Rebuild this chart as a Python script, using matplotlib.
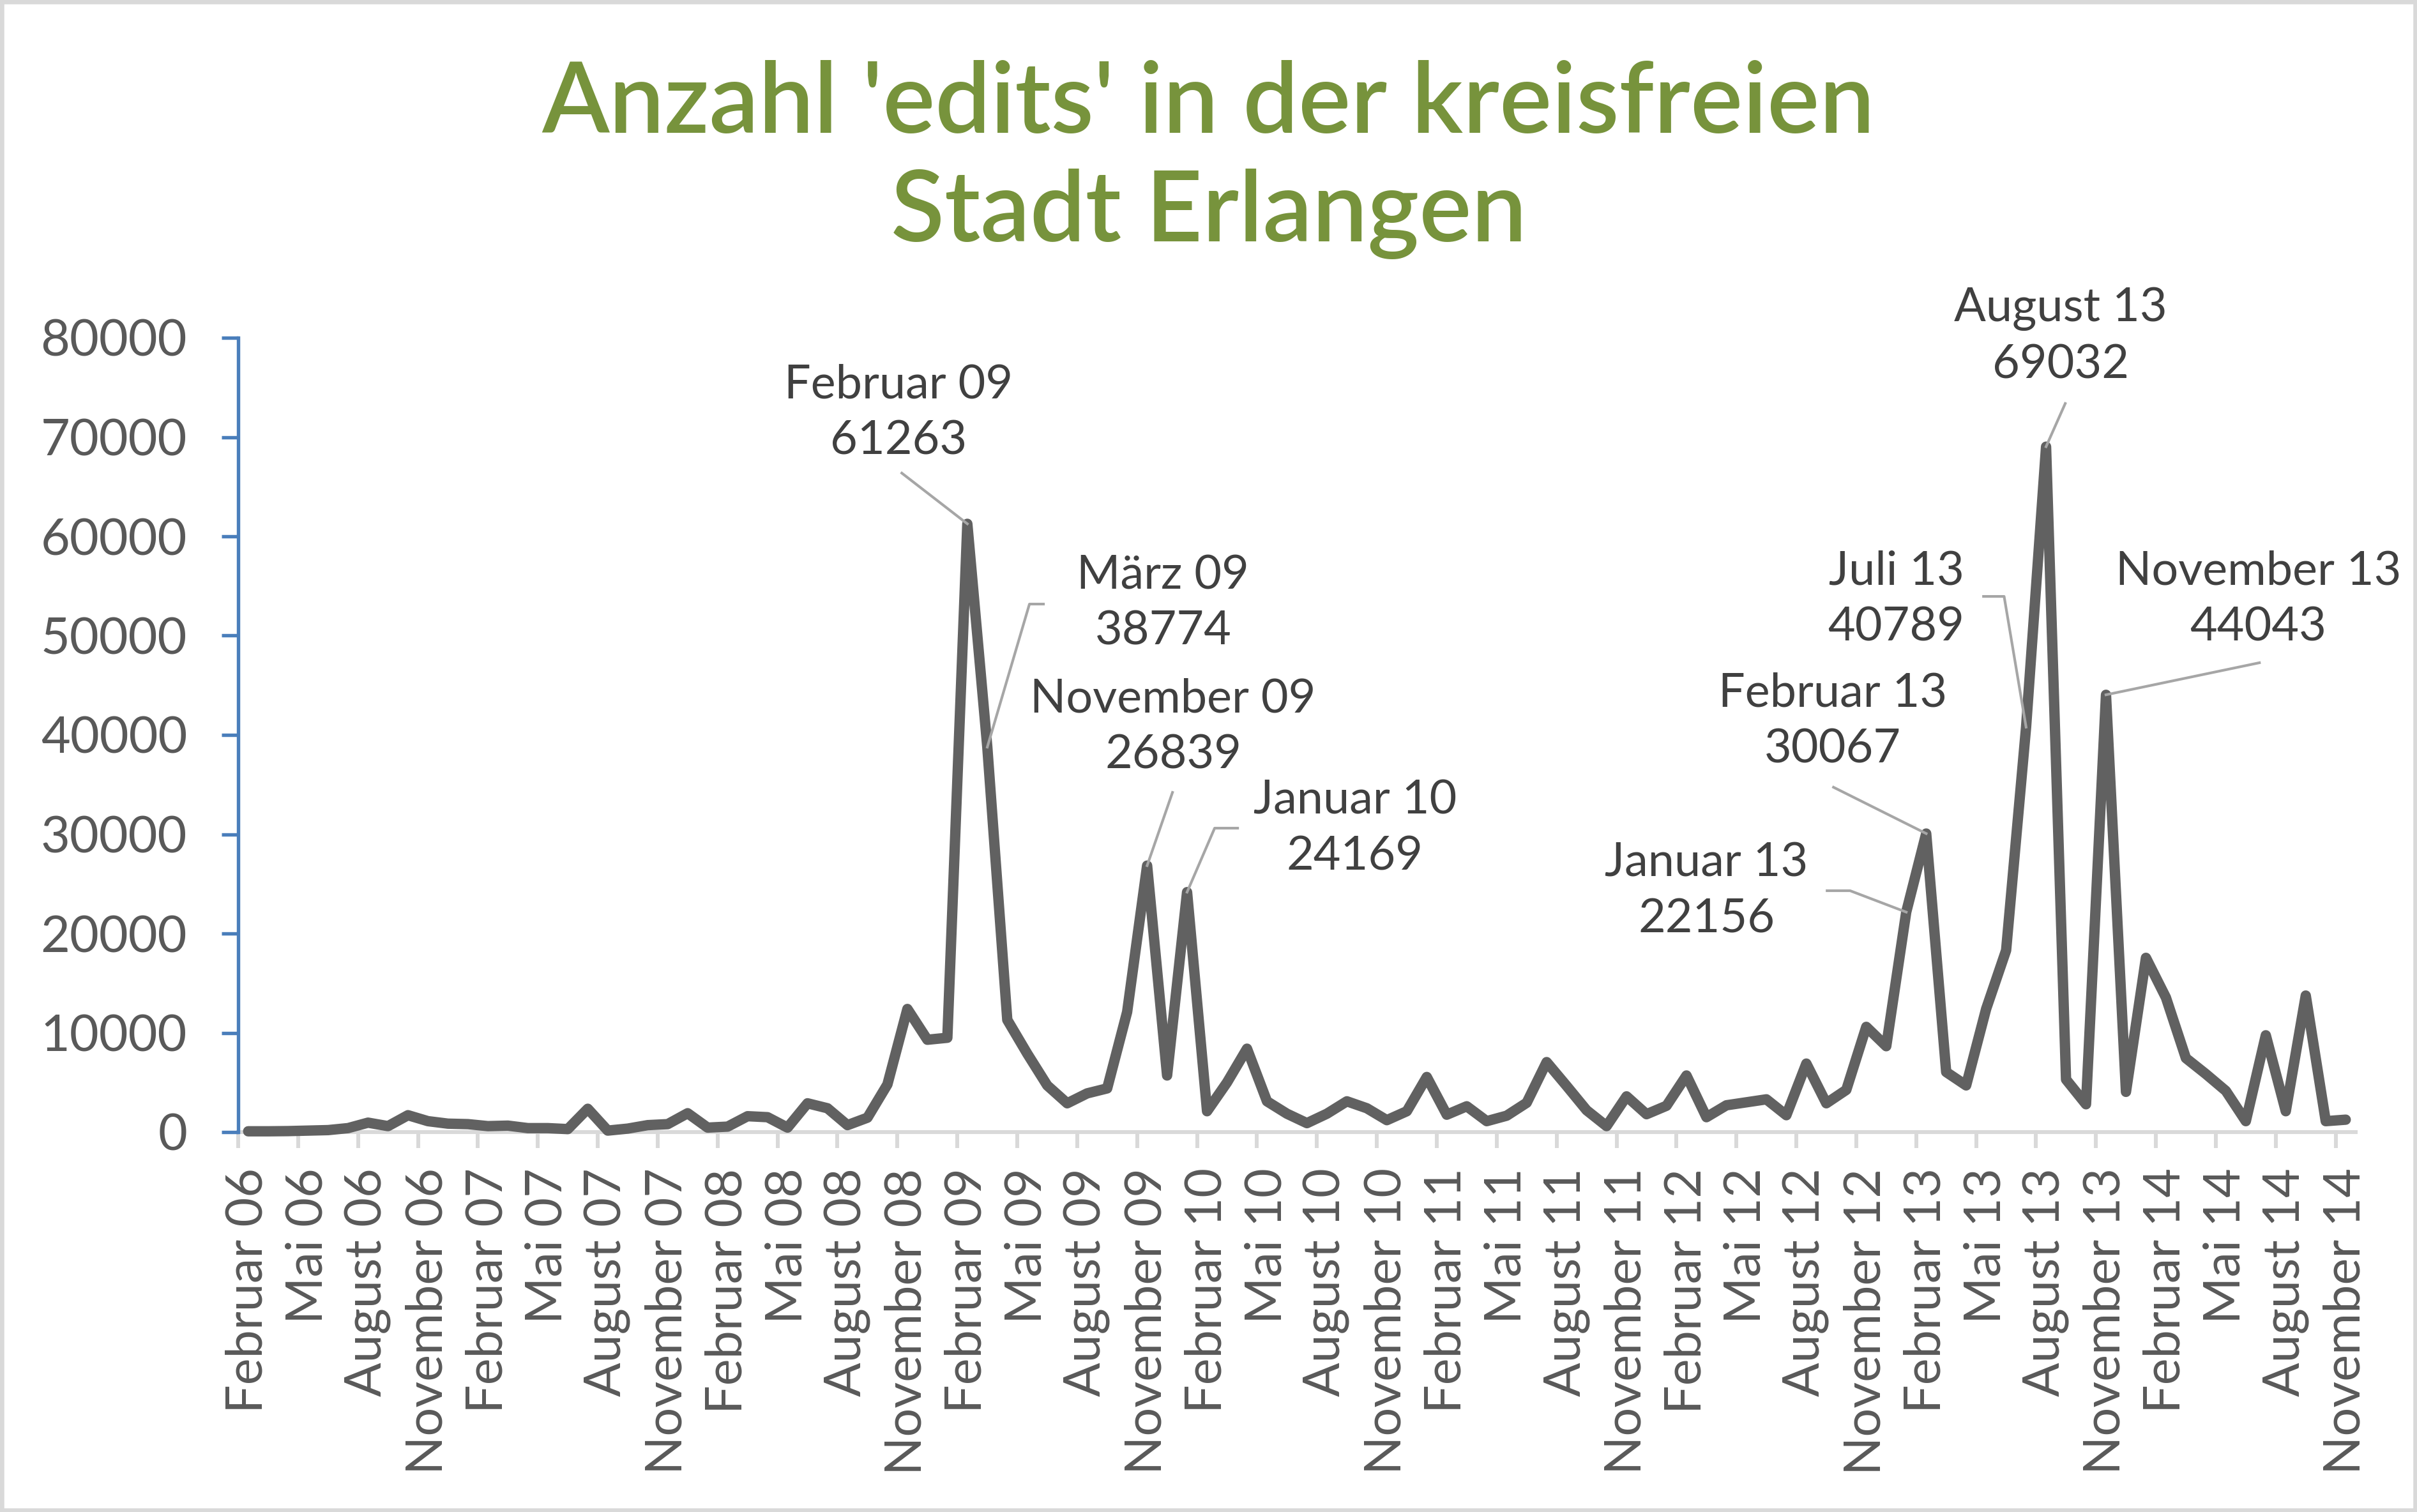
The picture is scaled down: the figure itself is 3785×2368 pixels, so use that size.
import matplotlib
matplotlib.use("Agg")
import matplotlib.pyplot as plt
from matplotlib.patches import Rectangle

# ---------------- data ----------------
month_names = ["Januar", "Februar", "März", "April", "Mai", "Juni", "Juli",
               "August", "September", "Oktober", "November", "Dezember"]
start_year = 2006
start_month = 2  # Februar 06
n_months = 106   # Februar 06 .. November 14

edits = [80, 80, 100, 150, 200, 400, 950, 600, 1700, 1100,
         850, 800, 600, 650, 400, 400, 300, 2350, 150, 350,
         700, 800, 1900, 450, 550, 1600, 1500, 450, 2900, 2400,
         700, 1450, 4800, 12400, 9300, 9500, 61263, 38774, 11300, 7900,
         4700, 2900, 3900, 4400, 12100, 26839, 5700, 24169, 2100, 5000,
         8400, 3100, 1850, 900, 1850, 3100, 2400, 1200, 2100, 5550,
         1750, 2600, 1100, 1650, 2950, 7050, 4650, 2200, 600, 3600,
         1800, 2650, 5700, 1500, 2700, 3000, 3300, 1700, 6900, 2900,
         4250, 10600, 8650, 22156, 30067, 6050, 4700, 12400, 18300, 40789,
         69032, 5300, 2800, 44043, 4050, 17550, 13550, 7450, 5850, 4150,
         1100, 9750, 2100, 13750, 1100, 1250]

categories = []
for k in range(n_months):
    m = (start_month - 1 + k) % 12
    y = start_year + (start_month - 1 + k) // 12
    categories.append(f"{month_names[m]} {y % 100:02d}")

# labelled points: index, text position (categories, value), leader start, optional elbow
labelled = [36, 37, 45, 47, 83, 84, 89, 90, 93]
label_text_pos = [(32.56, 72400), (45.8, 53200), (46.3, 40770), (55.4, 30550),
                  (73.0, 24250), (79.33, 41350), (82.5, 53630), (90.74, 80130),
                  (100.62, 53630)]
leader_start = [(32.72, 66370), (39.81, 53180), (46.27, 34210), (49.53, 30610),
                 (79.04, 24310), (79.36, 34730), (86.87, 53950), (90.96, 73380),
                 (100.68, 47270)]
leader_elbow = [None, (39.11, 53180), None, (48.38, 30610),
                (80.19, 24310), None, (87.9, 53950), None, None]

title = "Anzahl 'edits' in der kreisfreien\nStadt Erlangen"

# ---------------- style ----------------
W, H, DPI = 3785, 2368, 300
fig = plt.figure(figsize=(W / DPI, H / DPI), dpi=DPI)
fig.patch.set_facecolor("white")

left, right, bottom, top = 373 / W, 3689 / W, 1 - 1773 / H, 1 - 529 / H
ax = fig.add_axes([left, bottom, right - left, top - bottom])

x = list(range(n_months))
ax.plot(x, edits, color="#616161", lw=3.9, solid_joinstyle="round",
        solid_capstyle="round", zorder=3, clip_on=False)

ax.set_xlim(-0.5, n_months - 0.5)
ax.set_ylim(0, 80000)
ax.set_yticks(range(0, 80001, 10000))

txt_color = "#595959"
ax.tick_params(axis="y", direction="out", length=6.2, width=1.3,
               color="#4A7EBB", labelsize=19, labelcolor=txt_color, pad=13)
for lab in ax.get_yticklabels():
    lab.set_family("Lato")

# x axis: labels every 3 months at category centres, tick marks at boundaries
major = list(range(0, n_months, 3))
ax.set_xticks(major)
ax.set_xticklabels([categories[k] for k in major], rotation=90,
                   family="Lato", fontsize=19, color=txt_color)
ax.tick_params(axis="x", which="major", length=0, pad=13.5)
ax.set_xticks([k - 0.5 for k in range(0, n_months + 1, 3)], minor=True)
ax.tick_params(axis="x", which="minor", direction="out", length=6,
               width=1.45, color="#D9D9D9")

for s in ["top", "right"]:
    ax.spines[s].set_visible(False)
ax.spines["left"].set_color("#4A7EBB")
ax.spines["left"].set_linewidth(1.3)
ax.spines["bottom"].set_color("#D9D9D9")
ax.spines["bottom"].set_linewidth(1.45)
ax.spines["bottom"].set_zorder(1)

# data labels with leader lines
for k, idx in enumerate(labelled):
    tx, ty = label_text_pos[k]
    ax.text(tx, ty, f"{categories[idx]}\n{edits[idx]}", ha="center",
            va="center", fontsize=17.7, color="#404040", family="Lato",
            linespacing=1.38, clip_on=False, zorder=5)
    pts = [leader_start[k]]
    if leader_elbow[k] is not None:
        pts.append(leader_elbow[k])
    pts.append((idx, edits[idx]))
    ax.plot([p[0] for p in pts], [p[1] for p in pts], color="#A6A6A6",
            lw=1.0, zorder=4, clip_on=False)

fig.text(0.5, 1 - 250 / H, title, ha="center", va="center", fontsize=37,
         color="#77933C", family="Lato", fontweight="semibold",
         linespacing=1.27)

fig.patches.append(Rectangle((0, 0), 1, 1, transform=fig.transFigure,
                             fill=False, edgecolor="#D9D9D9", lw=3))

fig.savefig("out.png", dpi=DPI)
